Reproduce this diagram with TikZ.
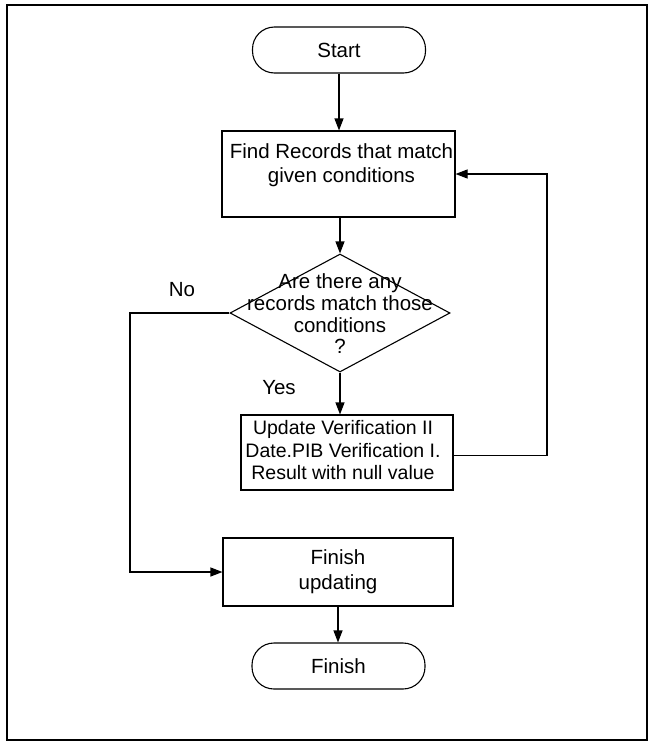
\documentclass[tikz,border=0pt]{standalone}
\usepackage{fontspec}
\setmainfont{Liberation Sans}
\usetikzlibrary{shapes.geometric,arrows.meta}
\begin{document}
\begin{tikzpicture}[x=1pt,y=-1pt,
  every node/.style={font=\fontsize{20.5}{23}\selectfont},
  termbox/.style={draw,line width=1.1pt,rectangle,rounded corners=22pt,minimum width=173pt,minimum height=46pt,inner sep=0pt},
  procbox/.style={draw,line width=1.1pt,rectangle,inner sep=0pt},
  decbox/.style={draw,line width=1.1pt,diamond,inner sep=0pt,minimum width=220pt,minimum height=118pt},
  flow/.style={line width=1.1pt,-{Triangle[length=12pt,width=9pt]}},
  plain/.style={line width=1.1pt}]
\useasboundingbox (0,0) rectangle (652,744);
\draw[line width=1.1pt] (7,5) rectangle (647,740);

\node[termbox] (start) at (339,50) {Start};
\node[procbox,minimum width=233pt,minimum height=86pt,
  label={[align=center,xshift=3pt,yshift=9pt,font=\fontsize{20.5}{24}\selectfont]center:Find Records that match\\given conditions}] (find) at (338.5,174) {};
\node[decbox,label={[align=center,yshift=-1pt,font=\fontsize{20.5}{22}\selectfont]center:Are there any\\records match those\\conditions\\[-1pt]?}] (dec) at (340,313) {};
\node[procbox,minimum width=212pt,minimum height=75pt,
  label={[align=center,xshift=-4pt,yshift=2pt,font=\fontsize{19.5}{22.5}\selectfont]center:Update Verification II\\Date.PIB Verification I.\\Result with null value}] (upd) at (347,452.5) {};
\node[procbox,minimum width=230pt,minimum height=68pt,
  label={[align=center,font=\fontsize{20.5}{25}\selectfont]center:Finish\\updating}] (fin) at (338,572) {};
\node[termbox] (finish) at (338.5,666) {Finish};

\node (no) at (182,290) {No};
\node (yes) at (279,388) {Yes};

\coordinate (loop) at (547,174);
\coordinate (nocorner) at (130,313);

\draw[flow] (start.south) -- (start.south |- find.north);
\draw[flow] (find.south -| dec.north) -- (dec.north);
\draw[flow] (dec.south) -- (dec.south |- upd.north);
\draw[flow] ([yshift=-3pt]upd.east) -| (loop) -- (find.east);
\draw[flow] (dec.west) -- (nocorner) |- (fin.west);
\draw[flow] (fin.south) -- (fin.south |- finish.north);
\end{tikzpicture}
\end{document}
